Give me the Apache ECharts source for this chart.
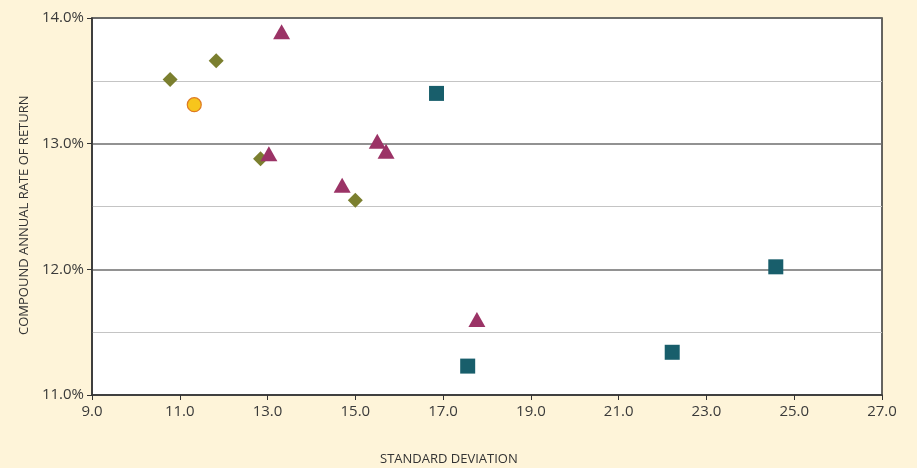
<!DOCTYPE html>
<html>
<head>
<meta charset="utf-8">
<script src="https://cdn.jsdelivr.net/npm/echarts@6/dist/echarts.min.js"></script>
<style>
html,body{margin:0;padding:0;background:#fef4d9;}
#chart{width:917px;height:468px;}
</style>
</head>
<body>
<div id="chart"></div>
<script>
// Data (x = standard deviation, y = compound annual rate of return in %)
const diamondX = [10.78, 11.83, 12.84, 15.0];
const diamondY = [13.51, 13.66, 12.88, 12.55];
const circleX = [11.33];
const circleY = [13.31];
const triangleX = [13.32, 13.03, 14.70, 15.50, 15.70, 17.77];
const triangleY = [13.89, 12.92, 12.67, 13.02, 12.94, 11.60];
const squareX = [16.85, 17.56, 22.22, 24.58];
const squareY = [13.40, 11.23, 11.34, 12.02];
const xTitle = 'STANDARD DEVIATION';
const yTitle = 'COMPOUND ANNUAL RATE OF RETURN';

const pairs = (xs, ys) => xs.map((x, i) => [x, ys[i]]);
const font = '"Open Sans", "DejaVu Sans", sans-serif';

const chart = echarts.init(document.getElementById('chart'));
chart.setOption({
  backgroundColor: '#fef4d9',
  animation: false,
  grid: {
    left: 92, right: 35, top: 18, bottom: 73,
    show: true, backgroundColor: '#ffffff', borderColor: '#333333', borderWidth: 1.5
  },
  xAxis: {
    type: 'value', min: 9, max: 27, interval: 2,
    axisLine: { show: true, onZero: false, lineStyle: { color: '#333333', width: 1.5 } },
    axisTick: { show: true, length: 5, lineStyle: { color: '#333333' } },
    axisLabel: { color: '#3a3a3a', fontSize: 15, fontFamily: font, margin: 9,
      formatter: v => v.toFixed(1) },
    splitLine: { show: false }
  },
  yAxis: {
    type: 'value', min: 11, max: 14, interval: 1,
    axisLine: { show: true, onZero: false, lineStyle: { color: '#333333', width: 1.5 } },
    axisTick: { show: true, length: 5, lineStyle: { color: '#333333' } },
    axisLabel: { color: '#3a3a3a', fontSize: 15, fontFamily: font, margin: 8,
      formatter: v => v.toFixed(1) + '%' },
    splitLine: { show: true, lineStyle: { color: '#6e6e6e', width: 1.5 } },
    minorTick: { show: false, splitNumber: 2 },
    minorSplitLine: { show: true, lineStyle: { color: '#c4c4c4', width: 1.2 } }
  },
  graphic: [
    { type: 'text', left: 380, top: 453,
      style: { text: xTitle, fill: '#333333', font: '13px ' + font } },
    { type: 'text', rotation: Math.PI / 2, x: 18, y: 335,
      style: { text: yTitle, fill: '#333333', font: '13px ' + font } }
  ],
  series: [
    { type: 'scatter', name: 'diamond', symbol: 'diamond', symbolSize: [15, 15],
      itemStyle: { color: '#7b7f2f', opacity: 1 }, data: pairs(diamondX, diamondY) },
    { type: 'scatter', name: 'circle', symbol: 'circle', symbolSize: 14,
      itemStyle: { color: '#f7c51c', borderColor: '#de7a22', borderWidth: 1.2, opacity: 1 },
      data: pairs(circleX, circleY) },
    { type: 'scatter', name: 'triangle', symbol: 'triangle', symbolSize: [17, 15],
      itemStyle: { color: '#9b3366', opacity: 1 }, data: pairs(triangleX, triangleY) },
    { type: 'scatter', name: 'square', symbol: 'rect', symbolSize: [15, 15],
      itemStyle: { color: '#185e6b', opacity: 1 }, data: pairs(squareX, squareY) }
  ]
});
</script>
</body>
</html>
